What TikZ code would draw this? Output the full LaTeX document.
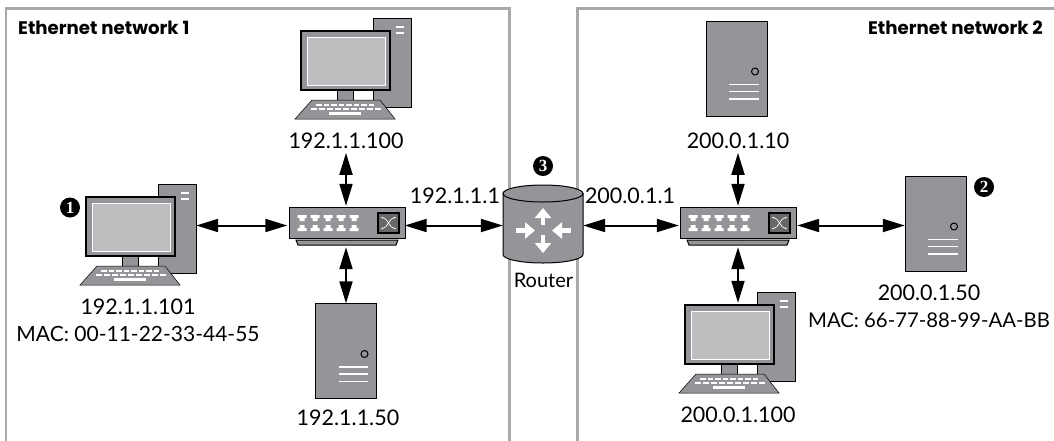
\documentclass[tikz,border=0pt]{standalone}
\usepackage{fontspec}
\setmainfont{Lato}
\newfontfamily\netfont{Poppins}
\newfontfamily\calloutfont{Liberation Serif}
\usetikzlibrary{arrows.meta}

\definecolor{framegray}{HTML}{A7A9AC}
\definecolor{bodygray}{HTML}{939598}
\definecolor{screengray}{HTML}{BCBEC0}

\begin{document}
\begin{tikzpicture}[%
		x=1pt,
		y=-1pt,
		frame/.style={
			draw=framegray,
			line width=2.7pt
		},
		anchorbox/.style={
			rectangle,
			inner sep=0pt,
			minimum width=#1
		},
		iconpart/.style={
			draw=black,
			fill=bodygray,
			line width=1pt
		},
		whitepart/.style={
			white,
			line width=1.5pt
		},
		iplabel/.style={
			font=\fontsize{21.5}{27}\selectfont,
			align=center,
			inner sep=0pt,
			outer sep=4pt
		},
		netlabel/.style={
			font=\fontsize{18.2}{20}\netfont\bfseries,
			inner sep=0pt
		},
		callout/.style={
			circle,
			fill=black,
			text=white,
			inner sep=0pt,
			minimum size=20pt,
			font=\fontsize{17}{17}\calloutfont\bfseries
		},
		linkarrow/.style={
			{Triangle[length=22pt,width=13pt]}-{Triangle[length=22pt,width=13pt]},
			line width=2pt
		},
		server/.pic={
			\draw[iconpart] (-30.5,-47.5) rectangle (30.5,47.5);
			\draw[line width=1pt] (18.5,3) circle (3.5);
			\foreach \yy in {15.8,23.2,30.5}
				\draw[whitepart] (-7.5,\yy) -- (22,\yy);
		},
		desktop/.pic={
			\draw[iconpart] (158,184) rectangle (196,273);
			\foreach \yy in {193,199}
				\draw[white,line width=2pt] (181,\yy) -- (189,\yy);
			\draw[iconpart] (122,256) rectangle (138,266);
			\draw[draw=black,fill=bodygray,line width=1.5pt] (86,197) rectangle (175,256);
			\draw[fill=screengray,draw=white,line width=1pt] (92,203) rectangle (170,251);
			\fill[bodygray,draw=black,line width=.5pt] (97,266) -- (165,266) -- (180,285) -- (80,285) -- cycle;
			\foreach \xx in {0,...,7}
				\fill[white] (101+\xx*7.5,269.5) rectangle ++(5.5,2.5);
			\foreach \xx in {0,...,8}
				\fill[white] (96+\xx*8,273.5) rectangle ++(6,2.5);
			\fill[white] (114,278) rectangle (146,281);
		},
		switchbox/.pic={
			\draw[iconpart] (-58,-18.5) rectangle (58,12.5);
			\draw[iconpart] (-51,14.5) -- (51,14.5) -- (49,19.5) -- (-49,19.5) -- cycle;
			\foreach \xx in {0,...,4} {
				\fill[white] (-49.5+\xx*13,-10.5) -- ++(9,0) -- ++(0,3) -- ++(-2,0) -- ++(0,3) -- ++(-5,0) -- ++(0,-3) -- ++(-2,0) -- cycle;
				\fill[white] (-49.5+\xx*13,5.5) -- ++(9,0) -- ++(0,-3) -- ++(-2,0) -- ++(0,-3) -- ++(-5,0) -- ++(0,3) -- ++(-2,0) -- cycle;
			}
			\draw[fill=bodygray!70!black,draw=black,line width=1.3pt] (31,-12.5) rectangle (52,7.5);
			\draw[white,line width=.7pt,{Stealth[length=2pt]}-{Stealth[length=2pt]}] (34,-8) .. controls (41,-8) and (42,3) .. (49,3);
			\draw[white,line width=.7pt,{Stealth[length=2pt]}-{Stealth[length=2pt]}] (34,3) .. controls (41,3) and (42,-8) .. (49,-8);
		},
		routericon/.pic={
			\draw[iconpart] (-40,-32) -- (-40,29) arc[start angle=180,end angle=0,x radius=40,y radius=8.5] -- (40,-32) -- cycle;
			\draw[iconpart] (0,-32) ellipse [x radius=40,y radius=8.5];
			\foreach \ax/\ay/\bx/\by in {0/-.5/0/-17.5, 0/9.5/0/27.5, -27/5/-8/5, 28/5/9/5}
				\draw[-{Triangle[length=10pt,width=16pt]},white,line width=4.5pt] (\ax,\ay) -- (\bx,\by);
		}]

		% FRAMES
		\useasboundingbox (0,0) rectangle (1054,440);
		\draw[frame] (6,441) -- (6,8.5) -- (509.5,8.5) -- (509.5,441);
		\draw[frame] (1056,8.5) -- (577.5,8.5) -- (577.5,441);

		\node [netlabel,anchor=west] (net1) at (18,28) {Ethernet network 1};
		\node [netlabel,anchor=east] (net2) at (1043,28) {Ethernet network 2};

		% NETWORK 1
		\node (pc1) [anchorbox=116pt,minimum height=83pt] at (138,225.5) {};
		\pic at (0,0) {desktop};
		\node (pc2) [anchorbox=116pt,minimum height=100pt] at (353,68) {};
		\pic at (215,-166) {desktop};
		\node (srv1) [anchorbox=61pt,minimum height=95pt] at (346,351) {};
		\pic at (srv1) {server};
		\node (sw1) [anchorbox=117pt,minimum height=39pt] at (346,225.5) {};
		\pic at (347,225.5) {switchbox};

		% NETWORK 2
		\node (pc3) [anchorbox=116pt,minimum height=78pt] at (738,342) {};
		\pic at (599,108) {desktop};
		\node (srv2) [anchorbox=61pt,minimum height=95pt] at (736.5,68.5) {};
		\pic at (srv2) {server};
		\node (srv3) [anchorbox=61pt,minimum height=95pt] at (935.5,225.5) {};
		\pic at (935.5,223.5) {server};
		\node (sw2) [anchorbox=118pt,minimum height=39pt] at (738,225.5) {};
		\pic at (sw2) {switchbox};

		% ROUTER
		\node (rt) [anchorbox=80pt,minimum height=78pt] at (543,225.5) {};
		\pic at (rt) {routericon};

		% LABELS
		\node [iplabel] (ip1) at (138,320) {192.1.1.101\\\fontsize{21}{27}\selectfont MAC: 00-11-22-33-44-55};
		\node [iplabel] (ip2) at (346,141) {192.1.1.100};
		\node [iplabel] (ip3) at (348,418) {192.1.1.50};
		\node [iplabel,anchor=east] (ip4) at (504,196) {192.1.1.1};
		\node [iplabel,anchor=west] (ip5) at (581,196) {200.0.1.1};
		\node [iplabel] (ip6) at (738,141) {200.0.1.10};
		\node [iplabel] (ip7) at (738,415) {200.0.1.100};
		\node [iplabel] (ip8) at (929,306.5) {200.0.1.50\\\fontsize{20.3}{27}\selectfont MAC: 66-77-88-99-AA-BB};
		\node [font=\fontsize{20}{22}\selectfont,inner sep=0pt] (rtlabel) at (543.5,280.5) {Router};

		\node [callout] (c1) at (70,207.5) {1};
		\node [callout] (c2) at (984,187) {2};
		\node [callout] (c3) at (543,166) {3};

		% LINKS
		\draw[linkarrow] (pc1.east) -- (sw1.west);
		\draw[linkarrow] (sw1.east) -- (rt.west);
		\draw[linkarrow] (rt.east) -- (sw2.west);
		\draw[linkarrow] (sw2.east) -- (srv3.west);
		\draw[linkarrow] (ip2.south) -- (sw1.north);
		\draw[linkarrow,shorten <=2pt] (sw1.south) -- (srv1.north);
		\draw[linkarrow] (ip6.south) -- (sw2.north);
		\draw[linkarrow,shorten <=2pt] (sw2.south) -- (pc3.north);
\end{tikzpicture}
\end{document}
